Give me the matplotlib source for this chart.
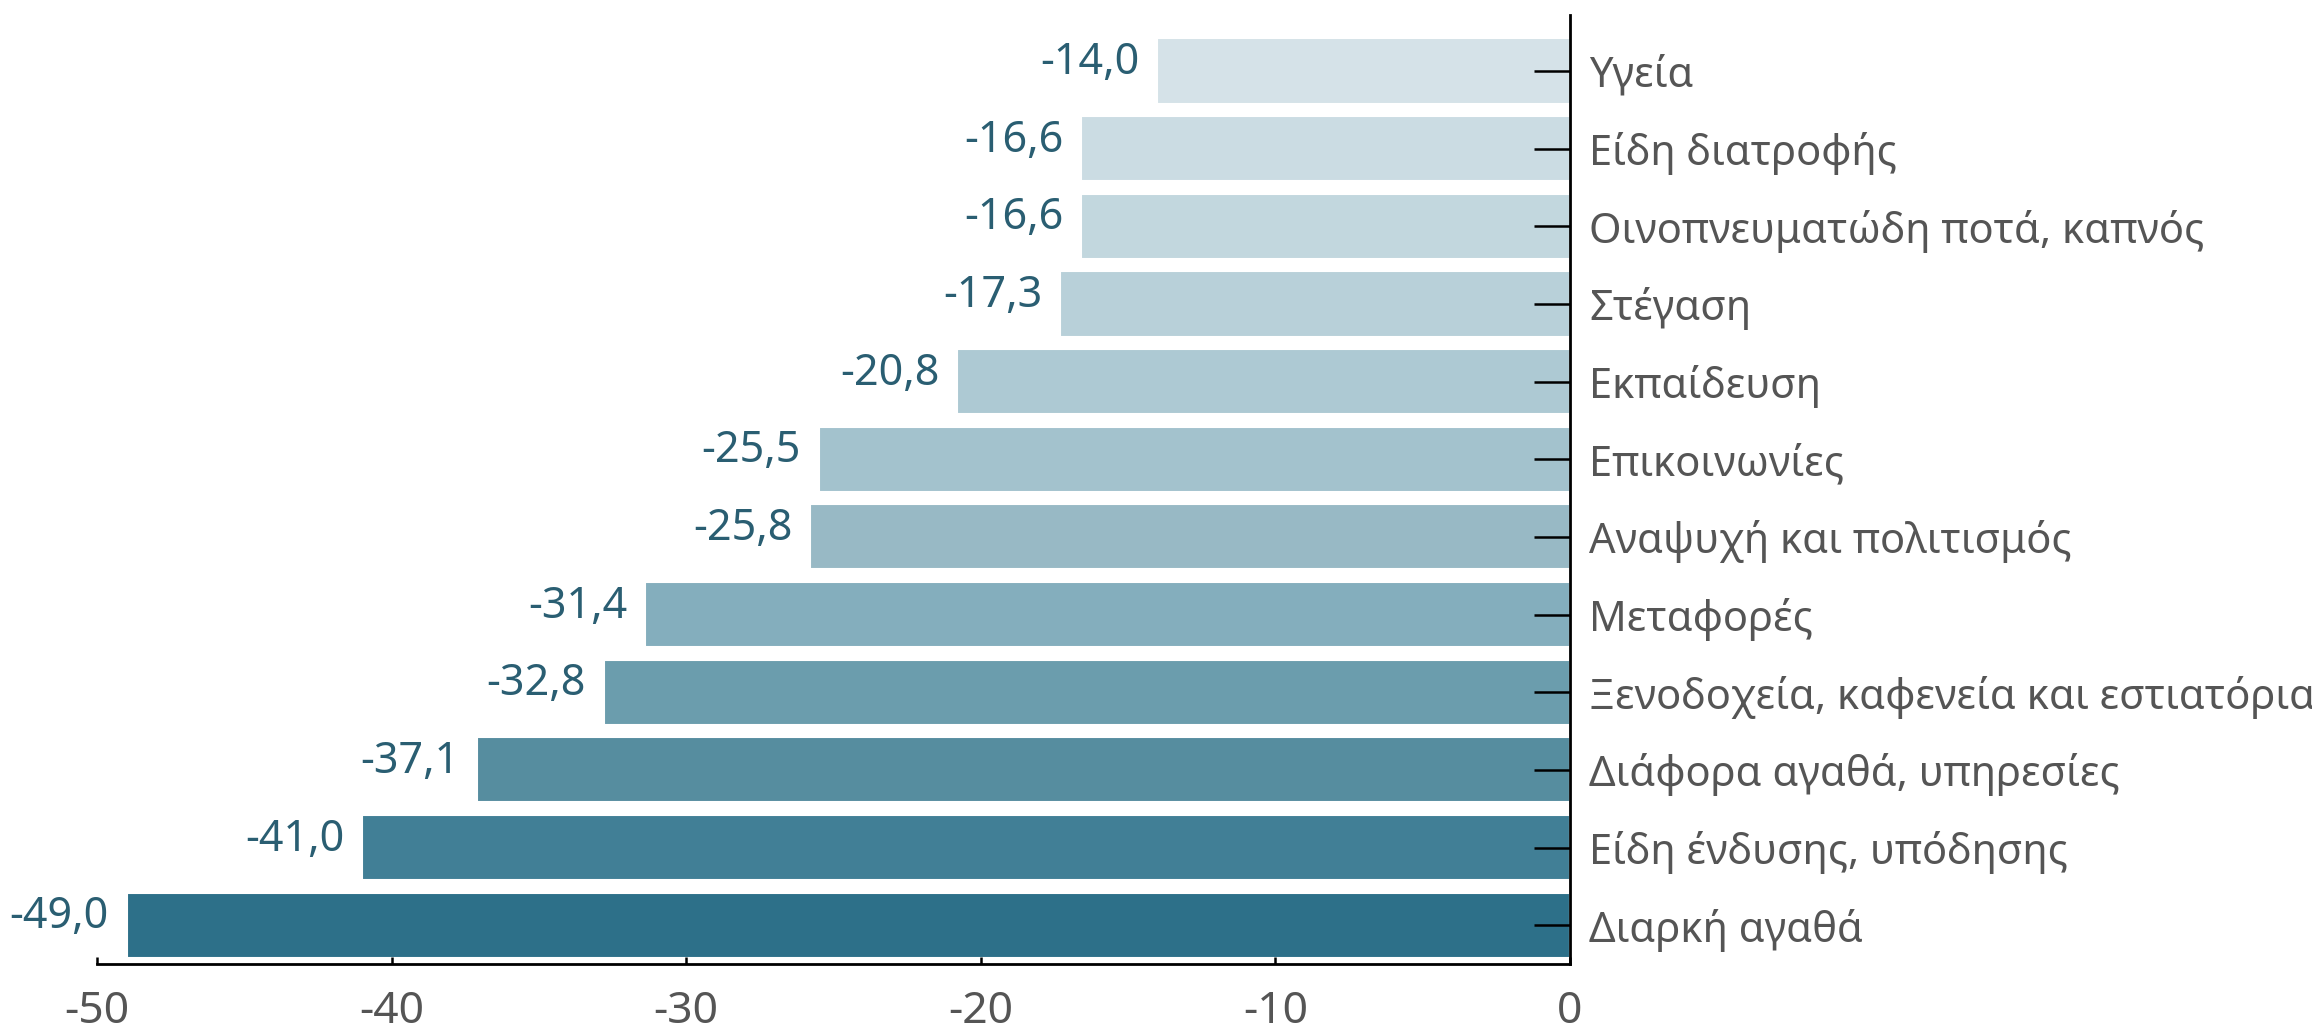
import numpy as np
import matplotlib.pyplot as plt
from matplotlib.colors import to_rgb

# Categories from top to bottom, and their values
categories = ["Υγεία", "Είδη διατροφής", "Οινοπνευματώδη ποτά, καπνός", "Στέγαση",
              "Εκπαίδευση", "Επικοινωνίες", "Αναψυχή και πολιτισμός", "Μεταφορές",
              "Ξενοδοχεία, καφενεία και εστιατόρια", "Διάφορα αγαθά, υπηρεσίες",
              "Είδη ένδυσης, υπόδησης", "Διαρκή αγαθά"]
values = [-14.0, -16.6, -16.6, -17.3, -20.8, -25.5, -25.8, -31.4, -32.8, -37.1, -41.0, -49.0]
xticks = [-50, -40, -30, -20, -10, 0]

# bar colours, light to dark teal
colors = ["#d5e2e8", "#cbdce3", "#c2d7de", "#b8d0d9", "#adc9d3", "#a3c2cd",
          "#98b9c5", "#84aebd", "#6b9dad", "#568d9f", "#417f96", "#2d7089"]

plt.rcParams['font.family'] = ['Noto Sans', 'DejaVu Sans']

n = len(categories)
fig = plt.figure(figsize=(23.12, 10.36), dpi=100)
ax = fig.add_axes([0.042, 0.0695, 0.637, 0.916])

ypos = np.arange(n)[::-1]
ax.barh(ypos, values, height=0.84, color=colors, edgecolor="white", linewidth=1.5, zorder=1)

for y, v in zip(ypos, values):
    ax.text(v - 0.6, y + 0.1, f"{v:.1f}".replace(".", ","), ha="right", va="center",
            fontsize=31, color="#2a5e72")

ax.set_xlim(-50, 0)
ax.set_ylim(-0.5, n - 0.28)
ax.set_xticks(xticks)
ax.set_xticklabels([str(t) for t in xticks])
ax.set_yticks(ypos)
ax.set_yticklabels(categories)

ax.yaxis.tick_right()
ax.spines["left"].set_visible(False)
ax.spines["top"].set_visible(False)
ax.spines["right"].set_linewidth(2)
ax.spines["bottom"].set_linewidth(2)
ax.spines["bottom"].set_bounds(-50, 0)
ax.tick_params(axis="y", direction="in", length=26, width=1.8,
               labelsize=30, labelcolor="#555555", pad=14)
ax.tick_params(axis="x", direction="in", length=5, width=1.8,
               labelsize=32, labelcolor="#555555", pad=19)

# y tick marks fade from near black (top) into the dark bar colour (bottom)
t_top, t_bot = np.array(to_rgb("#163440")), np.array(to_rgb("#2d7089"))
for k, t in enumerate(ax.yaxis.get_major_ticks()):
    # ticks follow ypos order, ypos[0] is the top bar
    t.tick2line.set_color(tuple(t_top + (t_bot - t_top) * k / (n - 1)))
    t.tick2line.set_zorder(5)

fig.savefig("out.png", dpi=100)
